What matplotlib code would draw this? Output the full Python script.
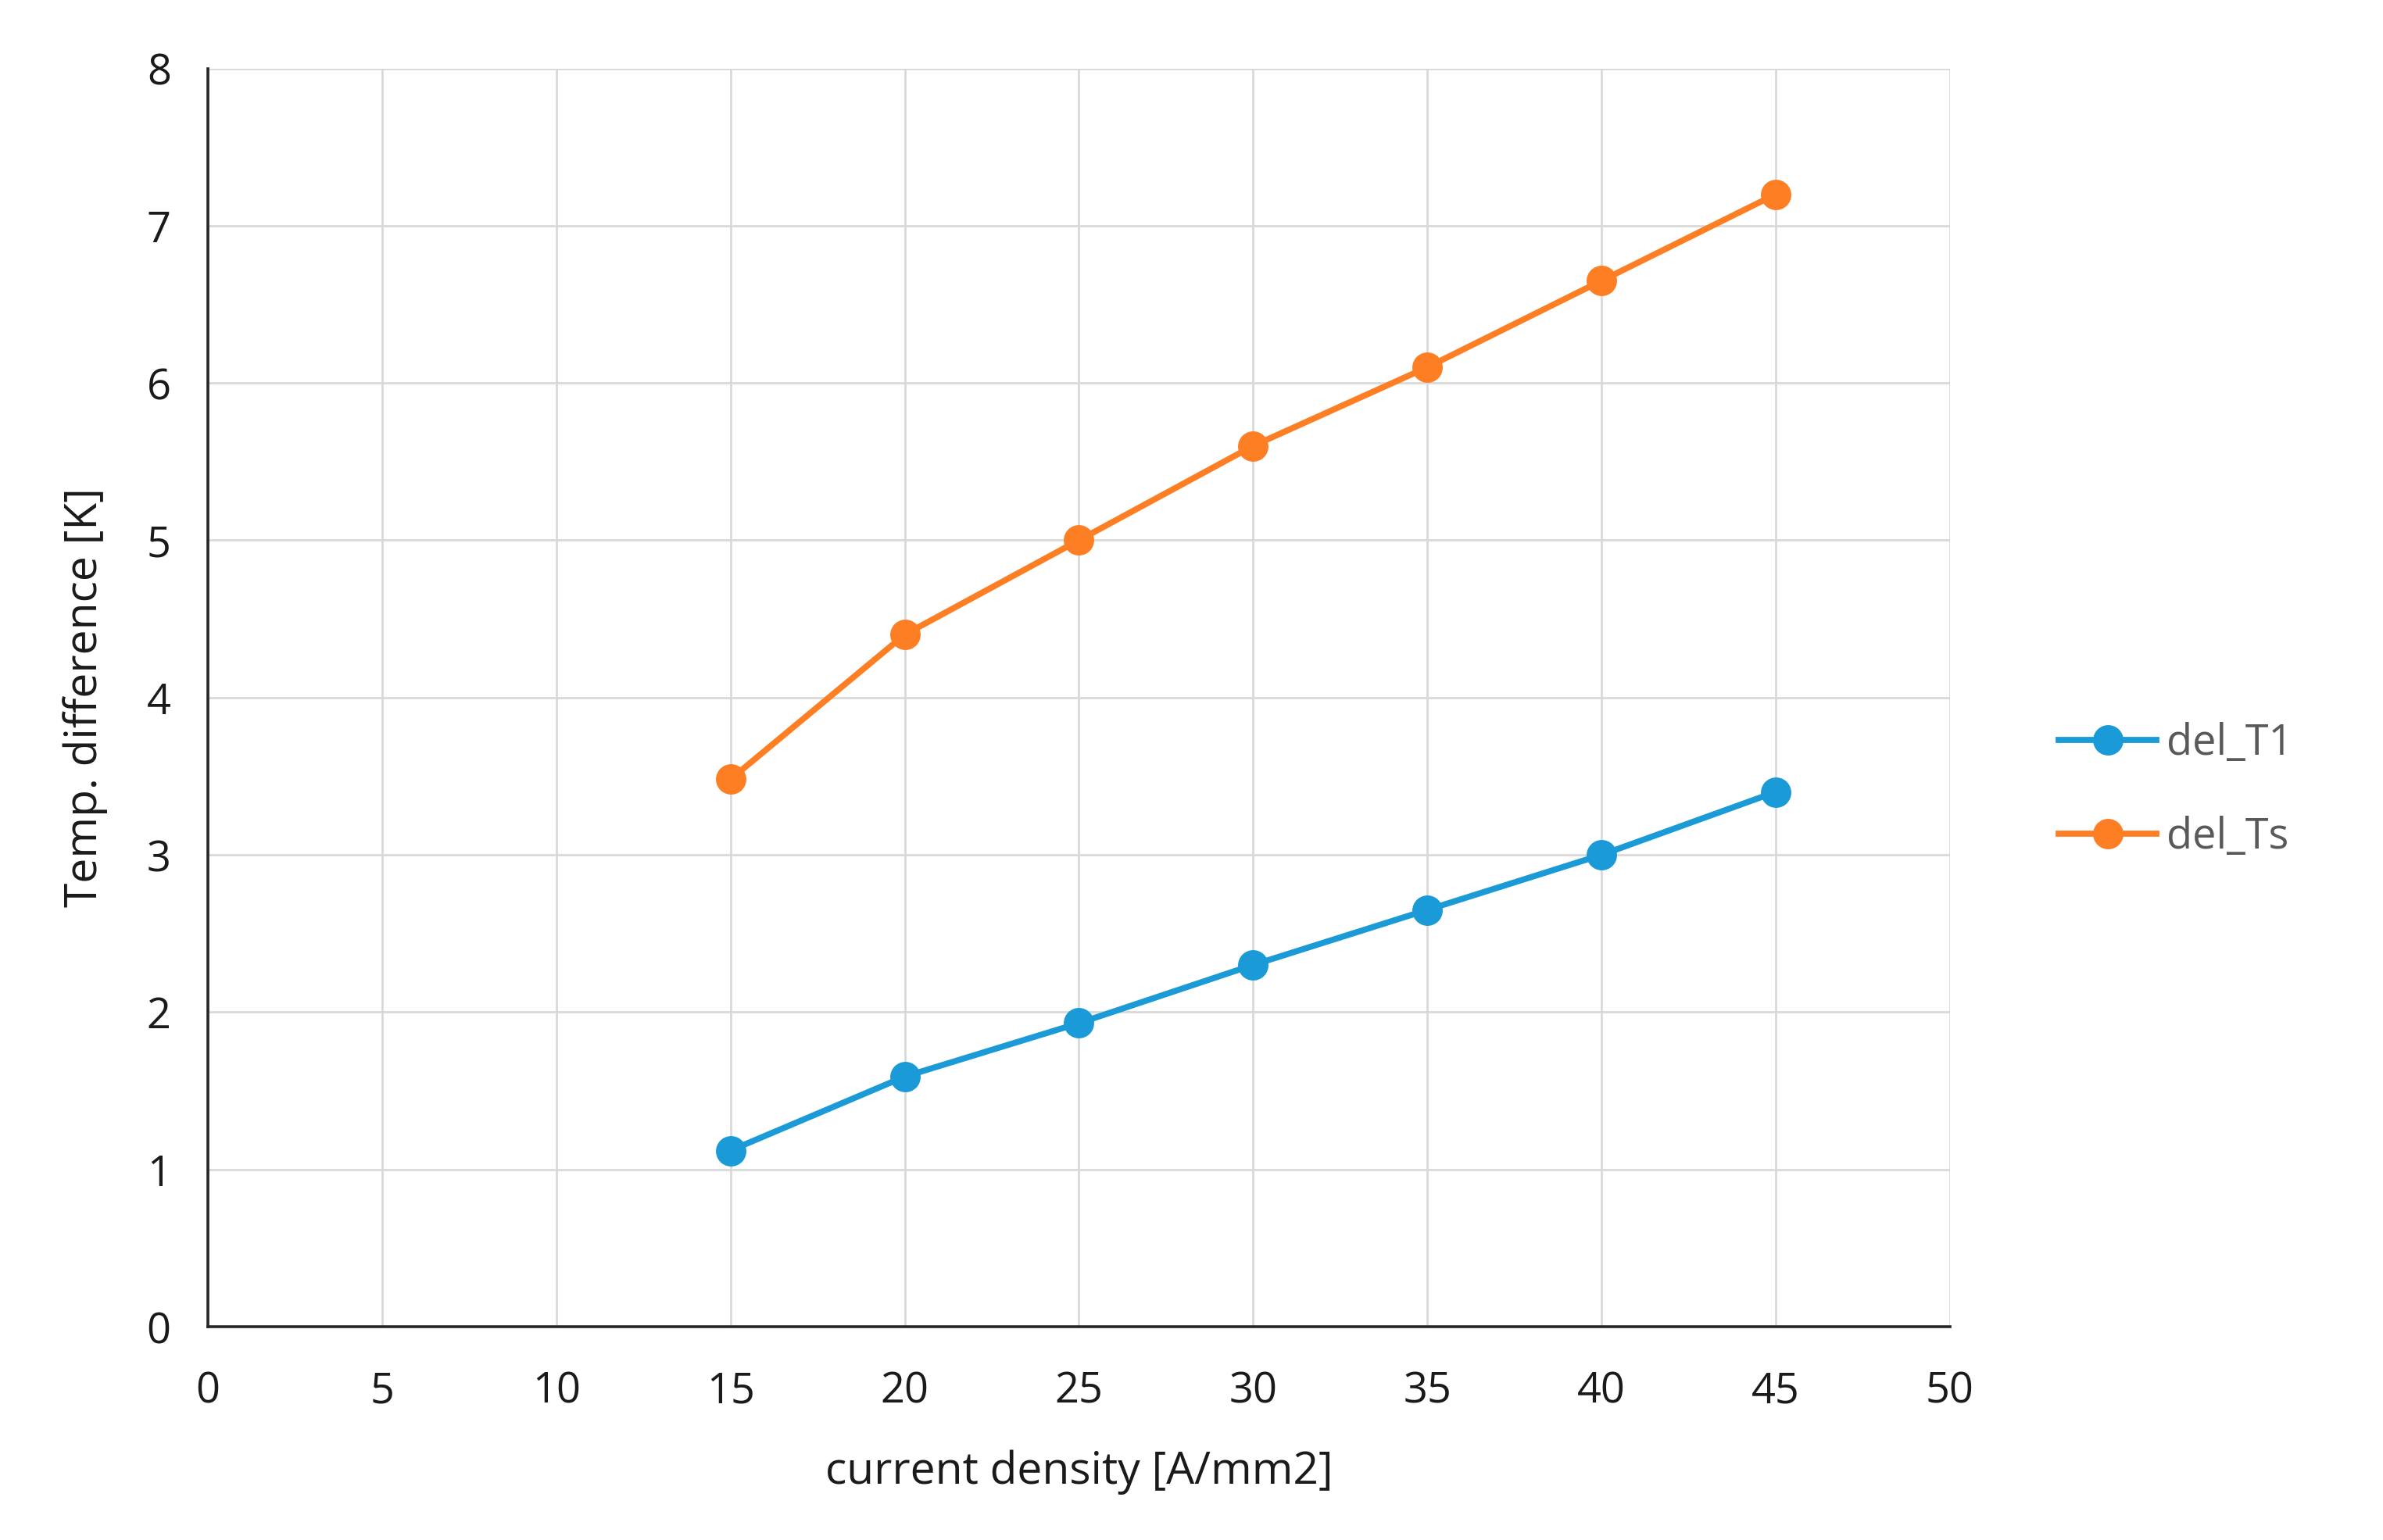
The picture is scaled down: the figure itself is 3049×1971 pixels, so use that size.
import matplotlib.pyplot as plt

# values
current_density = [15, 20, 25, 30, 35, 40, 45]
del_T1 = [1.12, 1.59, 1.93, 2.30, 2.65, 3.00, 3.40]
del_Ts = [3.48, 4.40, 5.00, 5.60, 6.10, 6.65, 7.20]

x_ticks = [0, 5, 10, 15, 20, 25, 30, 35, 40, 45, 50]
y_ticks = [0, 1, 2, 3, 4, 5, 6, 7, 8]

plt.rcParams['font.family'] = ['Open Sans', 'DejaVu Sans']

fig = plt.figure(figsize=(15.245, 9.855), dpi=200)
ax = fig.add_axes([0.0872, 0.1385, 0.7311, 0.8171])

ax.plot(current_density, del_T1, color='#1a9bd7', linewidth=2.8, marker='o',
        markersize=13, label='del_T1', zorder=3)
ax.plot(current_density, del_Ts, color='#fd7e23', linewidth=2.8, marker='o',
        markersize=13, label='del_Ts', zorder=3)

ax.set_xlim(0, 50)
ax.set_ylim(0, 8)
ax.set_xticks(x_ticks)
ax.set_yticks(y_ticks)
ax.grid(True, color='#d9d9d9', linewidth=1.0)
ax.set_axisbelow(True)

for s in ['top', 'right']:
    ax.spines[s].set_visible(False)
for s in ['left', 'bottom']:
    ax.spines[s].set_color('#262626')
    ax.spines[s].set_linewidth(1.3)

ax.tick_params(axis='both', length=0, labelsize=19.5, labelcolor='#1a1a1a')
ax.tick_params(axis='y', pad=17)
ax.tick_params(axis='x', pad=20)

ax.set_xlabel('current density [A/mm2]', fontsize=20.5, color='#1a1a1a', labelpad=17)
ax.set_ylabel('Temp. difference [K]', fontsize=20.5, color='#1a1a1a', labelpad=18)

fig.legend(loc='center left', bbox_to_anchor=(0.848, 0.487), frameon=False,
           fontsize=19.5, labelcolor='#595959', handlelength=2.3,
           labelspacing=1.2, handletextpad=0.25)

fig.savefig('out.png', dpi=200, facecolor='white')
